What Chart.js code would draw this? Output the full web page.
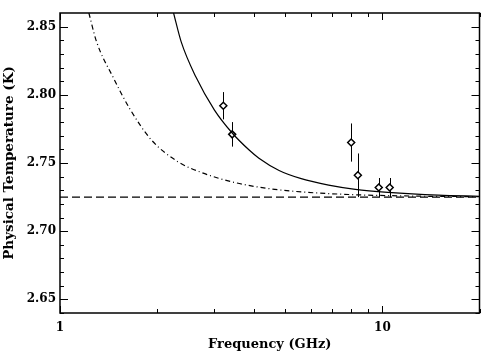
<!DOCTYPE html>
<html>
<head>
<meta charset="utf-8">
<script src="https://cdn.jsdelivr.net/npm/chart.js@4"></script>
<style>
  html, body { margin: 0; padding: 0; background: #fff; }
  #wrap { width: 485px; height: 360px; }
</style>
</head>
<body>
<div id="wrap"><canvas id="chart"></canvas></div>
<script>
// measured points (GHz, K) with 1-sigma errors
const freqs = [3.21, 3.42, 8.0, 8.39, 9.74, 10.53];
const temps = [2.792, 2.771, 2.765, 2.741, 2.732, 2.732];
const errs  = [0.010, 0.009, 0.014, 0.016, 0.007, 0.007];

// solid model curve
const solidFreq = [2.25, 2.375, 2.64, 3.01, 3.42, 3.86, 4.14, 4.78, 5.6, 6.81, 8.24, 10.4, 14.9, 20];
const solidTemp = [2.860, 2.839, 2.813, 2.789, 2.772, 2.7595, 2.7535, 2.7445, 2.7385, 2.7338, 2.7307, 2.7285, 2.7264, 2.7256];

// dash-dot model curve
const dashDotFreq = [1.229, 1.298, 1.46, 1.644, 1.919, 2.318, 2.763, 3.51, 4.45, 5.62, 7.85, 12.9, 20];
const dashDotTemp = [2.860, 2.839, 2.813, 2.790, 2.767, 2.751, 2.7428, 2.7355, 2.7312, 2.7288, 2.7269, 2.7257, 2.7253];

// CMB level
const cmbFreq = [1, 20];
const cmbTemp = [2.725, 2.725];

const xMajor = [1, 10];
const xMinor = [2, 3, 4, 5, 6, 7, 8, 9, 20];
const yMajor = [2.65, 2.70, 2.75, 2.80, 2.85];
const yMinor = [2.64, 2.66, 2.67, 2.68, 2.69, 2.71, 2.72, 2.73, 2.74, 2.76, 2.77, 2.78, 2.79, 2.81, 2.82, 2.83, 2.84];

Chart.defaults.font.family = '"DejaVu Serif", serif';
Chart.defaults.font.weight = 'bold';
Chart.defaults.font.size = 12;
Chart.defaults.color = '#000';

const pts = (xs, ys) => xs.map((x, i) => ({ x: x, y: ys[i] }));

// inward ticks on all four sides, frame, and error bars
const frame = {
  id: 'frame',
  beforeDatasetsDraw(chart) {
    const { ctx, scales: { x, y } } = chart;
    ctx.save();
    ctx.strokeStyle = '#000';
    ctx.lineWidth = 1;
    freqs.forEach((f, i) => {
      const px = Math.round(x.getPixelForValue(f)) + 0.5;
      ctx.beginPath();
      ctx.moveTo(px, y.getPixelForValue(temps[i] + errs[i]));
      ctx.lineTo(px, y.getPixelForValue(temps[i] - errs[i]));
      ctx.stroke();
    });
    ctx.restore();
  },
  afterDraw(chart) {
    const { ctx, chartArea: a, scales: { x, y } } = chart;
    ctx.save();
    ctx.strokeStyle = '#000';
    ctx.lineWidth = 1;
    ctx.beginPath();
    const xt = (v, len) => {
      const px = Math.round(x.getPixelForValue(v)) + 0.5;
      ctx.moveTo(px, a.bottom); ctx.lineTo(px, a.bottom - len);
      ctx.moveTo(px, a.top); ctx.lineTo(px, a.top + len);
    };
    const yt = (v, len) => {
      const py = Math.round(y.getPixelForValue(v)) + 0.5;
      ctx.moveTo(a.left, py); ctx.lineTo(a.left + len, py);
      ctx.moveTo(a.right, py); ctx.lineTo(a.right - len, py);
    };
    xMajor.forEach(v => xt(v, 7));
    xMinor.forEach(v => xt(v, 4));
    yMajor.forEach(v => yt(v, 8));
    yMinor.forEach(v => yt(v, 4));
    ctx.stroke();
    ctx.lineWidth = 1.5;
    ctx.strokeRect(a.left, a.top, a.right - a.left, a.bottom - a.top);
    ctx.restore();
  }
};

new Chart(document.getElementById('chart'), {
  type: 'scatter',
  data: {
    datasets: [
      {
        label: 'CMB',
        data: pts(cmbFreq, cmbTemp),
        showLine: true,
        borderColor: '#000',
        borderWidth: 1.2,
        borderDash: [8, 4],
        pointRadius: 0
      },
      {
        label: 'dash-dot model',
        data: pts(dashDotFreq, dashDotTemp),
        showLine: true,
        borderColor: '#000',
        borderWidth: 1.2,
        borderDash: [5, 3, 1, 3],
        cubicInterpolationMode: 'monotone',
        pointRadius: 0
      },
      {
        label: 'solid model',
        data: pts(solidFreq, solidTemp),
        showLine: true,
        borderColor: '#000',
        borderWidth: 1.2,
        cubicInterpolationMode: 'monotone',
        pointRadius: 0
      },
      {
        label: 'data',
        data: pts(freqs, temps),
        pointStyle: 'rectRot',
        pointRadius: 3.5,
        pointBorderWidth: 1.5,
        pointBorderColor: '#000',
        pointBackgroundColor: '#fff'
      }
    ]
  },
  options: {
    responsive: true, maintainAspectRatio: false,
    animation: false,
    layout: { padding: { top: 13, right: 3, left: 0, bottom: 0 } },
    plugins: { legend: { display: false }, tooltip: { enabled: false } },
    scales: {
      x: {
        type: 'logarithmic', min: 1, max: 20,
        grid: { display: false, drawTicks: true, tickLength: 8 }, border: { display: false },
        afterBuildTicks: s => { s.ticks = xMajor.concat(xMinor).map(v => ({ value: v })); },
        afterFit: s => { s.height = 47; s.paddingLeft = 0; s.paddingRight = 0; },
        ticks: { autoSkip: false, maxRotation: 0, padding: 0, callback: v => xMajor.includes(v) ? String(v) : '' },
        title: { display: true, text: 'Frequency (GHz)', font: { size: 13 }, padding: { top: 0, bottom: 8 } }
      },
      y: {
        min: 2.64, max: 2.86,
        grid: { display: false, drawTicks: false }, border: { display: false },
        afterBuildTicks: s => { s.ticks = yMajor.map(v => ({ value: v })); },
        afterFit: s => { s.width = 60; },
        ticks: { padding: 4, callback: v => v.toFixed(2) },
        title: { display: true, text: 'Physical Temperature (K)', font: { size: 13.5 }, padding: { top: 1, bottom: 0 } }
      }
    }
  },
  plugins: [frame]
});
</script>
</body>
</html>
